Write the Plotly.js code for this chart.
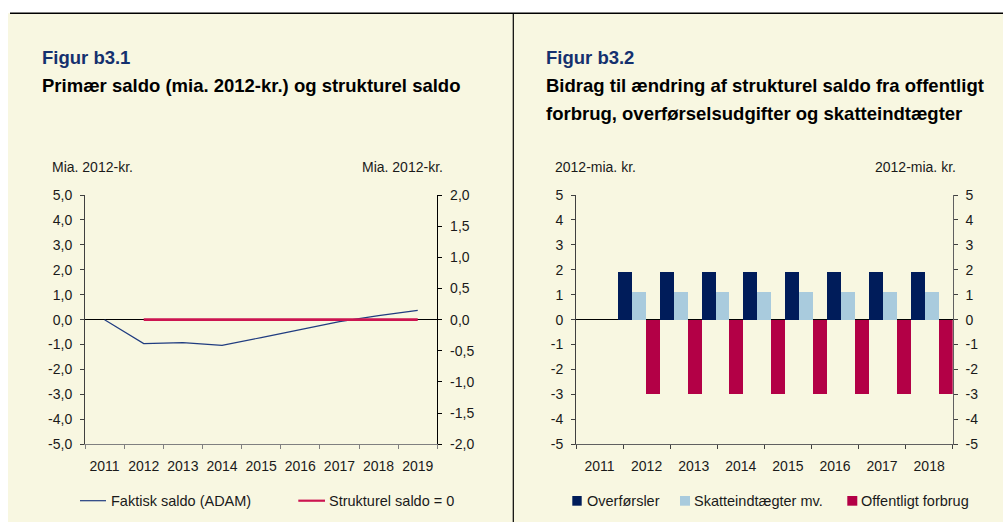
<!DOCTYPE html>
<html>
<head>
<meta charset="utf-8">
<script src="https://cdn.plot.ly/plotly-3.0.1.min.js"></script>
<style>
  html, body { margin: 0; padding: 0; background: #ffffff; }
  #chart { width: 1003px; height: 522px; }
</style>
</head>
<body>
<div id="chart"></div>
<script>
// ---------- Data ----------
const lineYears = ['2011', '2012', '2013', '2014', '2015', '2016', '2017', '2018', '2019'];
const faktiskSaldo = [0, -0.96, -0.92, -1.03, -0.72, -0.40, -0.08, 0.16, 0.37];
const strukturelSaldo = [null, 0, 0, 0, 0, 0, 0, 0, 0];

const leftTickVals = [-5, -4, -3, -2, -1, 0, 1, 2, 3, 4, 5];
const leftTickText = ['-5,0', '-4,0', '-3,0', '-2,0', '-1,0', '0,0', '1,0', '2,0', '3,0', '4,0', '5,0'];
const right1TickVals = [-2, -1.5, -1, -0.5, 0, 0.5, 1, 1.5, 2];
const right1TickText = ['-2,0', '-1,5', '-1,0', '-0,5', '0,0', '0,5', '1,0', '1,5', '2,0'];

const barAxisYears = ['2011', '2012', '2013', '2014', '2015', '2016', '2017', '2018'];
const barSlots = ['2011', '2012', '2013', '2014', '2015', '2016', '2017', '2018', '2019'];
const overforsler = [null, 1.9, 1.9, 1.9, 1.9, 1.9, 1.9, 1.9, 1.9];
const skatteindtaegter = [null, 1.1, 1.1, 1.1, 1.1, 1.1, 1.1, 1.1, 1.1];
const offentligtForbrug = [null, -3.0, -3.0, -3.0, -3.0, -3.0, -3.0, -3.0, -3.0];
const barTickVals = [-5, -4, -3, -2, -1, 0, 1, 2, 3, 4, 5];
const barTickText = ['-5', '-4', '-3', '-2', '-1', '0', '1', '2', '3', '4', '5'];

// ---------- Styling ----------
const W = 1003, H = 522;
const px = x => x / W;
const py = y => 1 - y / H;
const FONT = 'Liberation Sans, Arial, Helvetica, sans-serif';
const BG = 'rgb(248,247,225)';
const NAVY = '#14306E';
const C_LINE_BLUE = '#203C80';
const C_LINE_RED = '#CC1450';
const C_NAVY = '#001C5A';
const C_LBLUE = '#A9CBDD';
const C_RED = '#B30046';
const TXT = '#1a1a1a';

const yDomain = [py(444.3), py(195)];

const traces = [
  { type: 'scatter', mode: 'lines', name: 'Faktisk saldo (ADAM)', x: lineYears, y: faktiskSaldo,
    xaxis: 'x', yaxis: 'y', line: { color: C_LINE_BLUE, width: 1.2 }, showlegend: false },
  { type: 'scatter', mode: 'lines', name: 'Strukturel saldo = 0', x: lineYears, y: strukturelSaldo,
    xaxis: 'x', yaxis: 'y2', line: { color: C_LINE_RED, width: 2.6 }, showlegend: false },
  { type: 'bar', name: 'Overførsler', x: barSlots, y: overforsler, xaxis: 'x3', yaxis: 'y3',
    marker: { color: C_NAVY, line: { width: 0 } }, showlegend: false },
  { type: 'bar', name: 'Skatteindtægter mv.', x: barSlots, y: skatteindtaegter, xaxis: 'x3', yaxis: 'y3',
    marker: { color: C_LBLUE, line: { width: 0 } }, showlegend: false },
  { type: 'bar', name: 'Offentligt forbrug', x: barSlots, y: offentligtForbrug, xaxis: 'x3', yaxis: 'y3',
    marker: { color: C_RED, line: { width: 0 } }, showlegend: false },
  // invisible carriers so the overlay axes of the right chart are drawn
  { type: 'scatter', mode: 'markers', x: barAxisYears, y: barAxisYears.map(() => null), xaxis: 'x4', yaxis: 'y3',
    showlegend: false, hoverinfo: 'skip', marker: { opacity: 0 } },
  { type: 'scatter', mode: 'markers', x: barSlots, y: barSlots.map(() => null), xaxis: 'x3', yaxis: 'y4',
    showlegend: false, hoverinfo: 'skip', marker: { opacity: 0 } }
];

const tickFont = { family: FONT, size: 14, color: TXT };
const legFont = { family: FONT, size: 14.5, color: TXT };

const baseX = {
  type: 'category', tickson: 'boundaries', ticks: 'outside', ticklen: 4, tickwidth: 1, tickangle: 0,
  showline: true, linewidth: 1, showgrid: false, zeroline: false,
  tickfont: tickFont, ticklabelstandoff: 9, fixedrange: true
};
const baseY = {
  ticks: 'outside', ticklen: 4, tickwidth: 1, showline: true, linewidth: 1,
  showgrid: false, tickfont: tickFont, ticklabelstandoff: 5, fixedrange: true
};

const layout = {
  width: W, height: H,
  margin: { l: 0, r: 0, t: 0, b: 0 },
  paper_bgcolor: '#ffffff',
  plot_bgcolor: 'rgba(0,0,0,0)',
  showlegend: false,
  barmode: 'group', bargap: 0, bargroupgap: 0,
  font: { family: FONT, color: TXT },
  xaxis: Object.assign({}, baseX, {
    domain: [px(85), px(437.3)], anchor: 'y', categoryorder: 'array', categoryarray: lineYears,
    range: [-0.5, 8.5], linecolor: '#808080', tickcolor: '#808080'
  }),
  yaxis: Object.assign({}, baseY, {
    domain: yDomain, anchor: 'x', range: [-5, 5], tickvals: leftTickVals, ticktext: leftTickText,
    linecolor: '#404040', tickcolor: '#404040', zeroline: true, zerolinecolor: '#000000', zerolinewidth: 1.2
  }),
  yaxis2: Object.assign({}, baseY, {
    overlaying: 'y', side: 'right', anchor: 'x', range: [-2, 2], tickvals: right1TickVals, ticktext: right1TickText,
    linecolor: '#000000', tickcolor: '#000000', zeroline: false
  }),
  // slot axis carrying the bars (9 slots, no labels)
  xaxis3: {
    domain: [px(576), px(952.7)], anchor: 'y3', type: 'category', categoryorder: 'array', categoryarray: barSlots,
    range: [-0.5, 8.5], showticklabels: false, ticks: '', showline: true, linecolor: '#606060', linewidth: 1,
    showgrid: false, zeroline: false, fixedrange: true
  },
  // visible year axis of the right chart
  xaxis4: Object.assign({}, baseX, {
    overlaying: 'x3', anchor: 'y3', categoryorder: 'array', categoryarray: barAxisYears,
    range: [-0.5, 7.5], linecolor: '#606060', tickcolor: '#404040'
  }),
  yaxis3: Object.assign({}, baseY, {
    domain: yDomain, anchor: 'x3', range: [-5, 5], tickvals: barTickVals, ticktext: barTickText,
    linecolor: '#404040', tickcolor: '#404040', zeroline: true, zerolinecolor: '#000000', zerolinewidth: 1.2
  }),
  yaxis4: Object.assign({}, baseY, {
    overlaying: 'y3', side: 'right', anchor: 'x3', range: [-5, 5], tickvals: barTickVals, ticktext: barTickText,
    linecolor: '#606060', tickcolor: '#404040', zeroline: false
  }),
  shapes: [
    { type: 'rect', xref: 'paper', yref: 'paper', x0: px(8), x1: 1, y0: 0, y1: py(13.3),
      fillcolor: BG, line: { width: 0 }, layer: 'below' },
    { type: 'line', xref: 'paper', yref: 'paper', x0: px(10), x1: 1, y0: py(13.3), y1: py(13.3),
      line: { color: '#000000', width: 1.5 }, layer: 'above' },
    { type: 'line', xref: 'paper', yref: 'paper', x0: px(513.3), x1: px(513.3), y0: 0, y1: py(13.3),
      line: { color: '#000000', width: 1.2 }, layer: 'above' },
    { type: 'line', xref: 'paper', yref: 'paper', x0: px(80), x1: px(106), y0: py(500.7), y1: py(500.7),
      line: { color: C_LINE_BLUE, width: 1.2 } },
    { type: 'line', xref: 'paper', yref: 'paper', x0: px(298.3), x1: px(325), y0: py(500.7), y1: py(500.7),
      line: { color: C_LINE_RED, width: 2.2 } },
    { type: 'rect', xref: 'paper', yref: 'paper', x0: px(572.3), x1: px(581.7), y0: py(505.7), y1: py(496),
      fillcolor: C_NAVY, line: { width: 0 } },
    { type: 'rect', xref: 'paper', yref: 'paper', x0: px(680), x1: px(690), y0: py(505.7), y1: py(496),
      fillcolor: C_LBLUE, line: { width: 0 } },
    { type: 'rect', xref: 'paper', yref: 'paper', x0: px(847.3), x1: px(857.3), y0: py(505.7), y1: py(496),
      fillcolor: C_RED, line: { width: 0 } }
  ],
  annotations: [
    { text: '<b>Figur b3.1</b>', x: px(40), y: py(57), xref: 'paper', yref: 'paper', xanchor: 'left', yanchor: 'middle',
      showarrow: false, font: { family: FONT, size: 18.5, color: NAVY } },
    { text: '<b>Primær saldo (mia. 2012-kr.) og strukturel saldo</b>', x: px(40), y: py(85.3), xref: 'paper', yref: 'paper',
      xanchor: 'left', yanchor: 'middle', showarrow: false, font: { family: FONT, size: 18.5, color: '#000000' } },
    { text: '<b>Figur b3.2</b>', x: px(543.5), y: py(57), xref: 'paper', yref: 'paper', xanchor: 'left', yanchor: 'middle',
      showarrow: false, font: { family: FONT, size: 18.5, color: NAVY } },
    { text: '<b>Bidrag til ændring af strukturel saldo fra offentligt</b>', x: px(543.5), y: py(85.3), xref: 'paper', yref: 'paper',
      xanchor: 'left', yanchor: 'middle', showarrow: false, font: { family: FONT, size: 18.5, color: '#000000' } },
    { text: '<b>forbrug, overførselsudgifter og skatteindtægter</b>', x: px(543.5), y: py(113.6), xref: 'paper', yref: 'paper',
      xanchor: 'left', yanchor: 'middle', showarrow: false, font: { family: FONT, size: 18.5, color: '#000000' } },
    { text: 'Mia. 2012-kr.', x: px(50), y: py(166.5), xref: 'paper', yref: 'paper', xanchor: 'left', yanchor: 'middle',
      showarrow: false, font: tickFont },
    { text: 'Mia. 2012-kr.', x: px(445), y: py(166.5), xref: 'paper', yref: 'paper', xanchor: 'right', yanchor: 'middle',
      showarrow: false, font: tickFont },
    { text: '2012-mia. kr.', x: px(552.5), y: py(166.5), xref: 'paper', yref: 'paper', xanchor: 'left', yanchor: 'middle',
      showarrow: false, font: tickFont },
    { text: '2012-mia. kr.', x: px(958), y: py(166.5), xref: 'paper', yref: 'paper', xanchor: 'right', yanchor: 'middle',
      showarrow: false, font: tickFont },
    { text: 'Faktisk saldo (ADAM)', x: px(109), y: py(500.5), xref: 'paper', yref: 'paper', xanchor: 'left', yanchor: 'middle',
      showarrow: false, font: legFont },
    { text: 'Strukturel saldo = 0', x: px(327), y: py(500.5), xref: 'paper', yref: 'paper', xanchor: 'left', yanchor: 'middle',
      showarrow: false, font: legFont },
    { text: 'Overførsler', x: px(584.5), y: py(500.5), xref: 'paper', yref: 'paper', xanchor: 'left', yanchor: 'middle',
      showarrow: false, font: legFont },
    { text: 'Skatteindtægter mv.', x: px(691.5), y: py(500.5), xref: 'paper', yref: 'paper', xanchor: 'left', yanchor: 'middle',
      showarrow: false, font: legFont },
    { text: 'Offentligt forbrug', x: px(859), y: py(500.5), xref: 'paper', yref: 'paper', xanchor: 'left', yanchor: 'middle',
      showarrow: false, font: legFont }
  ]
};

Plotly.newPlot('chart', traces, layout, { displayModeBar: false, staticPlot: true });
</script>
</body>
</html>
